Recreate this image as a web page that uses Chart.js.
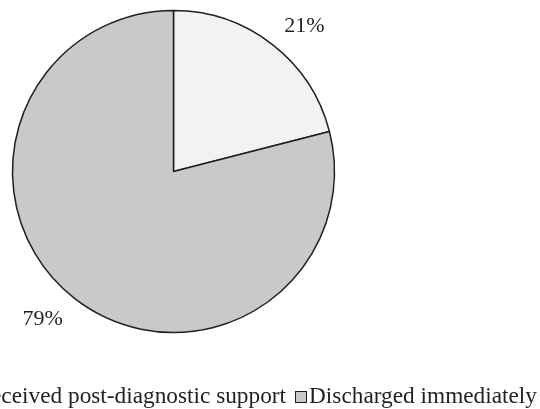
<!DOCTYPE html>
<html>
<head>
<meta charset="utf-8">
<script src="https://cdn.jsdelivr.net/npm/chart.js@4.4.0/dist/chart.umd.min.js"></script>
<style>
  html, body { margin: 0; padding: 0; background: #fff; overflow: hidden; }
  #wrap { position: relative; width: 540px; height: 409px; overflow: hidden; }
  #legend {
    position: absolute; right: 3px; top: 382px;
    display: flex; align-items: baseline; white-space: nowrap;
    font-family: "Liberation Serif", "Times New Roman", serif; font-size: 23.3px; color: #231f20;
  }
  .item { display: flex; align-items: baseline; margin-left: 9px; }
  .box { display: inline-block; width: 10px; height: 10px; border: 1.5px solid #231f20; margin-right: 2px; }
</style>
</head>
<body>
<div id="wrap">
  <canvas id="pieChart" width="540" height="409"></canvas>
  <div id="legend"></div>
</div>
<script>
const labels = ["Received post-diagnostic support", "Discharged immediately"];
const values = [21, 79];
const valueLabels = ["21%", "79%"];
const colors = ["#f1f2f3", "#c8c9cb"];

const legendEl = document.getElementById("legend");
labels.forEach((label, i) => {
  const item = document.createElement("span");
  item.className = "item";
  item.innerHTML = `<span class="box" style="background:${colors[i]}"></span>${label}`;
  legendEl.appendChild(item);
});

// percent labels just outside the pie
const outsideLabels = {
  id: "outsideLabels",
  afterDatasetsDraw(chart) {
    const ctx = chart.ctx;
    const meta = chart.getDatasetMeta(0);
    ctx.save();
    ctx.font = '22px "Liberation Serif", "Times New Roman", serif';
    ctx.fillStyle = "#231f20";
    ctx.textAlign = "center";
    ctx.textBaseline = "middle";
    meta.data.forEach((arc, i) => {
      const mid = (arc.startAngle + arc.endAngle) / 2 + 0.07;
      const r = arc.outerRadius * 1.22;
      ctx.fillText(valueLabels[i], arc.x + Math.cos(mid) * r, arc.y + Math.sin(mid) * r + 1);
    });
    ctx.restore();
  },
};

const ctx = document.getElementById("pieChart").getContext("2d");
const myChart = new Chart(ctx, {
  type: "pie",
  data: {
    labels: labels,
    datasets: [
      {
        data: values,
        backgroundColor: colors,
        borderColor: "#231f20",
        borderWidth: 1.5,
        radius: 161,
      },
    ],
  },
  options: {
    responsive: false,
    animation: false,
    layout: { padding: { left: 12, right: 205, top: 10, bottom: 76 } },
    plugins: {
      legend: { display: false },
      tooltip: { enabled: false },
    },
  },
  plugins: [outsideLabels],
});
</script>
</body>
</html>
